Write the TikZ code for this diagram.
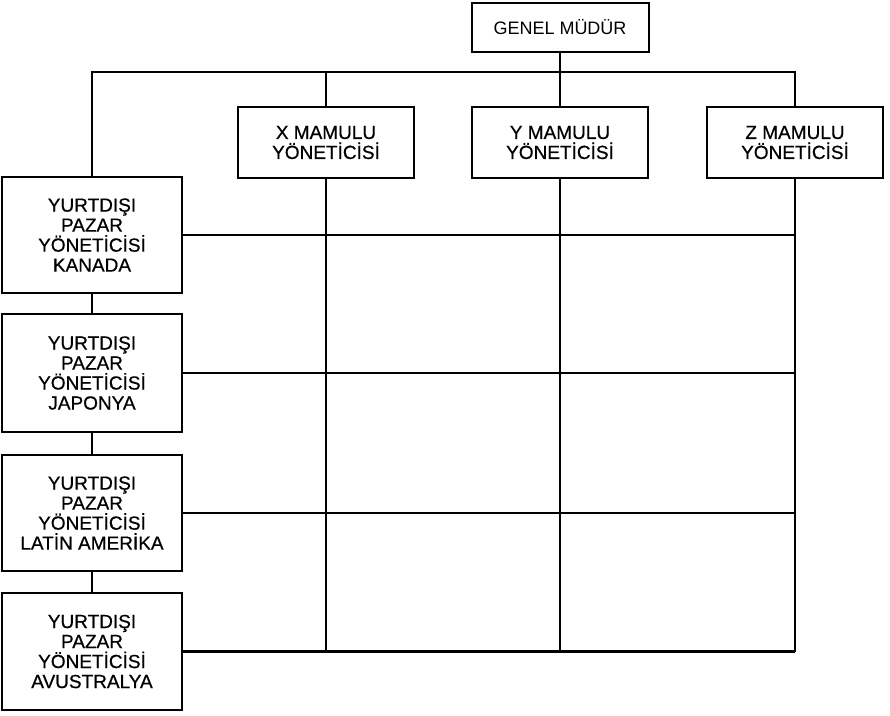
\documentclass[tikz,border=0pt]{standalone}
\usepackage{fontspec}
\setmainfont{Liberation Sans}
\newfontfamily\medfont{Liberation Sans}[FakeBold=0.6]
\begin{document}
\begin{tikzpicture}[x=1pt,y=-1pt,
  box/.style={draw, line width=2pt, inner sep=0pt, align=center,
    font=\medfont\fontsize{19}{20}\selectfont},
  mbox/.style={box, minimum width=176, minimum height=71},
  lbox/.style={box, minimum width=180},
  conn/.style={line width=2.4pt}]
\useasboundingbox (0,0) rectangle (890,715);
% top
\node[box, minimum width=177, minimum height=49, font=\fontsize{18}{20}\selectfont] (gm) at (560,27.5) {GENEL MÜDÜR};
% product managers
\node[mbox] (xm) at (326,142.5) {X MAMULU\\YÖNETİCİSİ};
\node[mbox] (ym) at (560,142.5) {Y MAMULU\\YÖNETİCİSİ};
\node[mbox] (zm) at (795,142.5) {Z MAMULU\\YÖNETİCİSİ};
% market managers
\node[lbox, minimum height=116] (kan) at (92,235) {YURTDIŞI\\PAZAR\\YÖNETİCİSİ\\KANADA};
\node[lbox, minimum height=118] (jap) at (92,373) {YURTDIŞI\\PAZAR\\YÖNETİCİSİ\\JAPONYA};
\node[lbox, minimum height=116] (lat) at (92,513) {YURTDIŞI\\PAZAR\\YÖNETİCİSİ\\LATİN AMERİKA};
\node[lbox, minimum height=117] (avu) at (92,651.5) {YURTDIŞI\\PAZAR\\YÖNETİCİSİ\\AVUSTRALYA};
% top bar
\coordinate (bar) at (0,72);
\draw[conn] (kan.north) -- (kan.north |- bar) -- (zm.north |- bar) -- (zm.north);
\draw[conn] (gm.south) -- (ym.north);
\draw[conn] (xm.north) -- (xm.north |- bar);
% left chain
\draw[conn] (kan.south) -- (jap.north);
\draw[conn] (jap.south) -- (lat.north);
\draw[conn] (lat.south) -- (avu.north);
% matrix verticals
\draw[conn] (xm.south) -- (xm.south |- avu.east);
\draw[conn] (ym.south) -- (ym.south |- avu.east);
\draw[conn] (zm.south) -- (zm.south |- avu.east);
% matrix horizontals
\draw[conn] (kan.east) -- (kan.east -| zm.south);
\draw[conn] (jap.east) -- (jap.east -| zm.south);
\draw[conn] (lat.east) -- (lat.east -| zm.south);
\draw[conn] (avu.east) -- (avu.east -| zm.south);
\end{tikzpicture}
\end{document}
